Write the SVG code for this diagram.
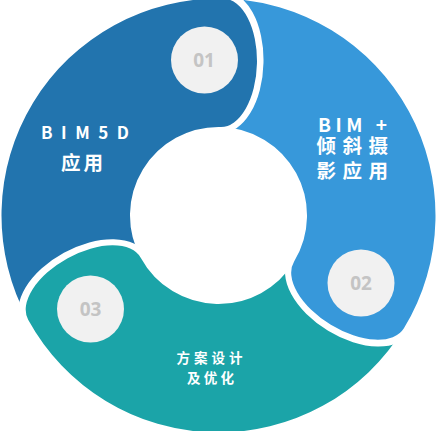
<svg xmlns="http://www.w3.org/2000/svg" xmlns:xlink="http://www.w3.org/1999/xlink" width="437" height="431" viewBox="0 0 437 431">
  <style>
    .num { font-family: "Open Sans", "Liberation Sans", sans-serif; font-weight: 700; font-size: 19px; fill: #c4c4c4; text-anchor: middle; }
    .badge { fill: #f1f1f1; }
    .lbl { font-family: "Noto Sans CJK SC", "Noto Sans", sans-serif; font-weight: 700; fill: #ffffff; }
  </style>
  <defs>
    <clipPath id="tailClip" clipPathUnits="userSpaceOnUse">
      <path clip-rule="evenodd" d="M-600 -600 H1100 V1100 H-600 Z M63.93 252.82 A41.5 70.75 61.3 1 0 103.79 325.62 A41.5 70.75 61.3 1 0 63.93 252.82 Z"/>
    </clipPath>
    <path id="seg" clip-path="url(#tailClip)" d="M28.16 319.72 A217 217 0 0 1 223.42 -1.44 A35 64.25 1.3 0 1 256.96 63.58 A35 64.25 1.3 0 1 220.51 127.02 A88.5 88.5 0 0 0 140.87 258.00 Z"/>
  </defs>
  <rect width="437" height="431" fill="#ffffff"/>
  <g id="connectors"></g>

  <g id="node-01">
    <use xlink:href="#seg" href="#seg" fill="#2274ae"/>
    <circle class="badge" cx="204.5" cy="60" r="33.5"/>
    <text class="num" x="204" y="66.5">01</text>
    <text class="lbl"><tspan x="41" y="139" font-size="17" textLength="88" lengthAdjust="spacing">BIM5D</tspan><tspan x="61" y="170.4" font-size="19.5" letter-spacing="3">应用</tspan></text>
  </g>

  <g id="node-02">
    <use xlink:href="#seg" href="#seg" fill="#3798da" transform="rotate(120 218.5 215.5)"/>
    <circle class="badge" cx="361" cy="283" r="33.5"/>
    <text class="num" x="361" y="289.5">02</text>
    <text class="lbl"><tspan x="318" y="132" font-size="19" textLength="69" lengthAdjust="spacing">BIM +</tspan><tspan x="316.5" y="153.4" font-size="19.5" letter-spacing="6.5">倾斜摄</tspan><tspan x="316.5" y="178.4" font-size="19.5" letter-spacing="6.5">影应用</tspan></text>
  </g>

  <g id="node-03">
    <use xlink:href="#seg" href="#seg" fill="#1ba4a8" transform="rotate(240 218.5 215.5)"/>
    <circle class="badge" cx="90.5" cy="309" r="33.5"/>
    <text class="num" x="90.5" y="315.5">03</text>
    <text class="lbl" font-size="13.5"><tspan x="176.5" y="362.7" letter-spacing="4">方案设计</tspan><tspan x="187" y="382.7" letter-spacing="3.3">及优化</tspan></text>
  </g>
</svg>
